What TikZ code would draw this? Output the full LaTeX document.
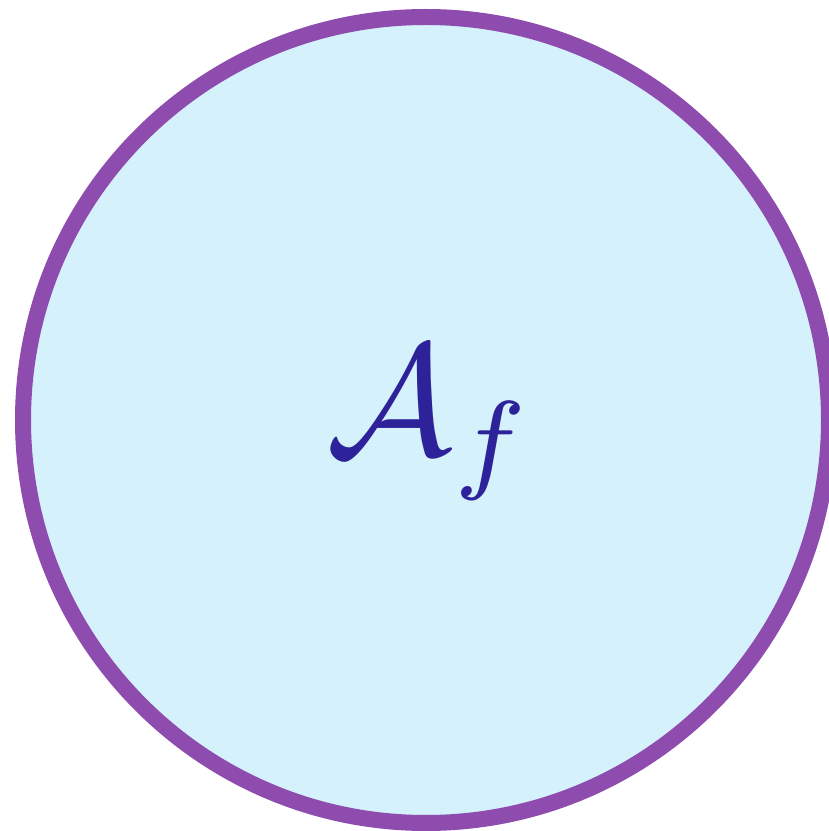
\documentclass[tikz,border=0pt]{standalone}
\definecolor{ringc}{RGB}{143,76,175}
\definecolor{fillc}{RGB}{212,241,252}
\definecolor{textc}{RGB}{46,34,154}
\begin{document}
\begin{tikzpicture}[x=1pt,y=1pt]
\useasboundingbox (0,0) rectangle (829,831);
\clip (0,0) rectangle (829,831);
\node[circle, draw=ringc, fill=fillc, line width=16pt, minimum size=806pt, inner sep=0pt] (c) at (426,411) {};
\node[text=textc, scale=15.8, inner sep=0pt] (t) at (431,408) {$\mathcal{A}_f$};
\end{tikzpicture}
\end{document}
